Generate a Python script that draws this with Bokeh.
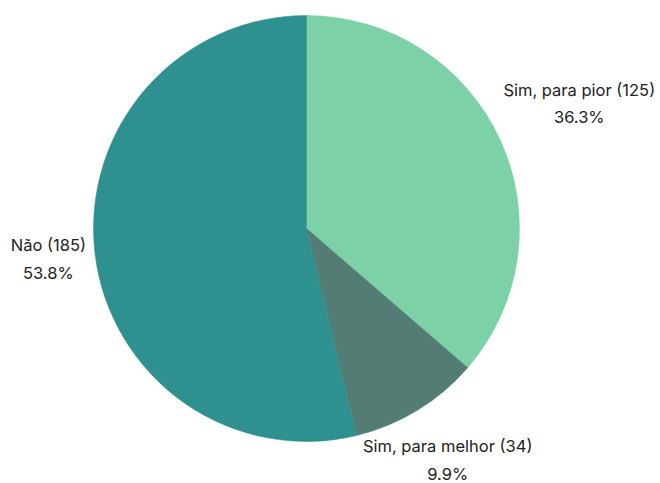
import math
from bokeh.plotting import figure
from bokeh.models import Range1d, ColumnDataSource
from bokeh.core.properties import value
from bokeh.embed import file_html
from bokeh.resources import INLINE

categories = ["Sim, para pior", "Sim, para melhor", "Não"]
counts = [125, 34, 185]
colors = ["#7dd1a6", "#527c74", "#2f918f"]

W, H = 660, 483
cx, cy = 306, H - 228
R = 213
label_dist = [300, 271, 260]

total = sum(counts)
starts, ends, lx, ly, texts = [], [], [], [], []
a = math.pi / 2
for i, c in enumerate(counts):
    span = 2 * math.pi * c / total
    starts.append(a)
    ends.append(a - span)
    mid = a - span / 2
    lx.append(cx + label_dist[i] * math.cos(mid))
    ly.append(cy + label_dist[i] * math.sin(mid))
    texts.append(f"{categories[i]} ({c})\n{100 * c / total:.1f}%")
    a -= span

p = figure(width=W, height=H, output_backend="svg", toolbar_location=None,
           x_range=Range1d(0, W), y_range=Range1d(0, H), min_border=0)
p.axis.visible = False
p.grid.visible = False
p.outline_line_color = None

src = ColumnDataSource(dict(start=starts, end=ends, color=colors))
p.wedge(x=cx, y=cy, radius=R, start_angle="start", end_angle="end",
        direction="clock", fill_color="color", line_color="color", line_width=0.5, source=src)

p.text(x=lx, y=ly, text=texts, text_align="center", text_baseline="middle",
       text_font=value("Inter"), text_font_size="16.5px", text_color="#222222",
       text_line_height=1.38)

open("out.html", "w").write(file_html(p, INLINE))
